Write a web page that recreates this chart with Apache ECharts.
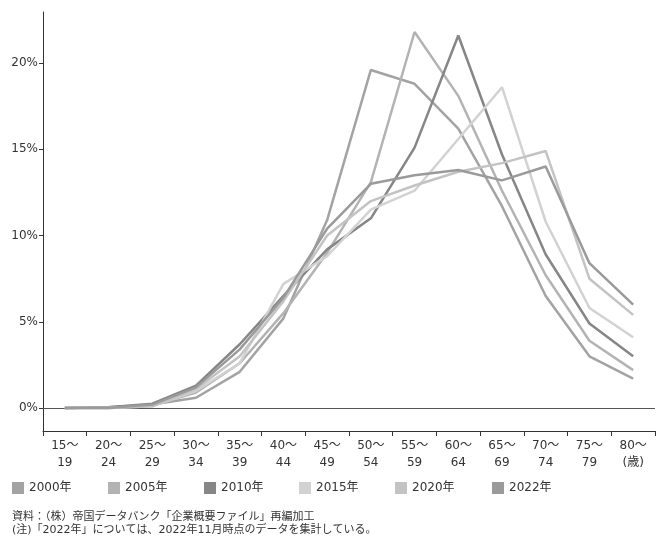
<!DOCTYPE html>
<html>
<head>
<meta charset="utf-8">
<script src="https://cdn.jsdelivr.net/npm/echarts@6/dist/echarts.min.js"></script>
<style>
  html, body { margin: 0; padding: 0; background: #fff; }
  #chart { width: 657px; height: 538px; }
</style>
</head>
<body>
<div id="chart"></div>
<script>
// Age brackets of company presidents
const categories = ['15～\n19','20～\n24','25～\n29','30～\n34','35～\n39','40～\n44','45～\n49',
                    '50～\n54','55～\n59','60～\n64','65～\n69','70～\n74','75～\n79','80～\n(歳)'];

// Share of presidents in each bracket (%)
const s2000 = [0.0, 0.05, 0.2, 0.6, 2.1, 5.2, 10.9, 19.6, 18.8, 16.2, 11.7, 6.5, 3.0, 1.7];
const s2005 = [0.0, 0.05, 0.15, 0.9, 2.6, 5.5, 9.0, 13.1, 21.8, 18.1, 12.6, 7.7, 3.9, 2.2];
const s2010 = [0.0, 0.05, 0.25, 1.3, 3.7, 6.5, 9.2, 11.0, 15.1, 21.6, 14.7, 8.9, 4.9, 3.0];
const s2015 = [0.0, 0.0, 0.1, 1.0, 2.6, 7.2, 8.8, 11.5, 12.6, 15.6, 18.6, 10.8, 5.8, 4.1];
const s2020 = [0.0, 0.0, 0.1, 1.1, 3.0, 6.2, 10.0, 12.0, 12.9, 13.7, 14.2, 14.9, 7.5, 5.4];
const s2022 = [0.0, 0.0, 0.2, 1.2, 3.4, 6.4, 10.4, 13.0, 13.5, 13.8, 13.2, 14.0, 8.4, 6.0];

const seriesNames = ['2000年', '2005年', '2010年', '2015年', '2020年', '2022年'];
const seriesData = [s2000, s2005, s2010, s2015, s2020, s2022];
const seriesColors = ['#a3a3a3', '#b3b3b3', '#868686', '#d2d2d2', '#c3c3c3', '#9a9a9a'];

const yTicks = [0, 5, 10, 15, 20];

const FONT = '"DejaVu Sans", "Noto Sans CJK JP", sans-serif';

const chart = echarts.init(document.getElementById('chart'), null, { renderer: 'canvas' });

const legendLefts = [12, 108, 204, 299, 395, 492];

const series = seriesNames.map((name, i) => ({
  name: name,
  type: 'line',
  data: seriesData[i],
  symbol: 'none',
  smooth: false,
  lineStyle: { color: seriesColors[i], width: 2.5 },
  itemStyle: { color: seriesColors[i] },
  z: 3
}));

// baseline at 0%
series[0].markLine = {
  silent: true,
  symbol: ['none', 'none'],
  label: { show: false },
  lineStyle: { color: '#555', width: 1, type: 'solid' },
  data: [{ yAxis: 0 }],
  z: 1
};

const option = {
  animation: false,
  backgroundColor: '#ffffff',
  textStyle: { fontFamily: FONT },
  grid: { left: 43, right: 2, top: 12, bottom: 107, containLabel: false },
  legend: seriesNames.map((name, i) => ({
    data: [name],
    left: legendLefts[i],
    top: 482,
    padding: 0,
    icon: 'rect',
    itemWidth: 12,
    itemHeight: 12,
    itemGap: 5,
    textStyle: { fontFamily: FONT, fontSize: 12, color: '#333' },
    selectedMode: false
  })),
  xAxis: {
    type: 'category',
    data: categories,
    boundaryGap: true,
    axisLine: { onZero: false, lineStyle: { color: '#333', width: 1 } },
    axisTick: { show: true, length: 5, lineStyle: { color: '#333' } },
    axisLabel: {
      interval: 0,
      color: '#333',
      fontSize: 12,
      lineHeight: 17,
      margin: 6,
      fontFamily: FONT
    },
    splitLine: { show: false }
  },
  yAxis: {
    type: 'value',
    min: -1.33,
    max: 22.96,
    axisLine: { show: true, lineStyle: { color: '#333', width: 1 } },
    axisTick: { show: true, length: 4, customValues: yTicks, lineStyle: { color: '#333' } },
    axisLabel: {
      customValues: yTicks,
      formatter: '{value}%',
      color: '#333',
      fontSize: 12,
      margin: 5,
      fontFamily: FONT
    },
    splitLine: { show: false }
  },
  graphic: [
    {
      type: 'text',
      left: 12,
      top: 511,
      style: {
        text: '資料：（株）帝国データバンク「企業概要ファイル」再編加工\n(注)「2022年」については、2022年11月時点のデータを集計している。',
        fill: '#333',
        font: '11px "DejaVu Sans", "Noto Sans CJK JP", sans-serif',
        lineHeight: 13
      }
    }
  ],
  series: series
};

chart.setOption(option);
</script>
</body>
</html>
